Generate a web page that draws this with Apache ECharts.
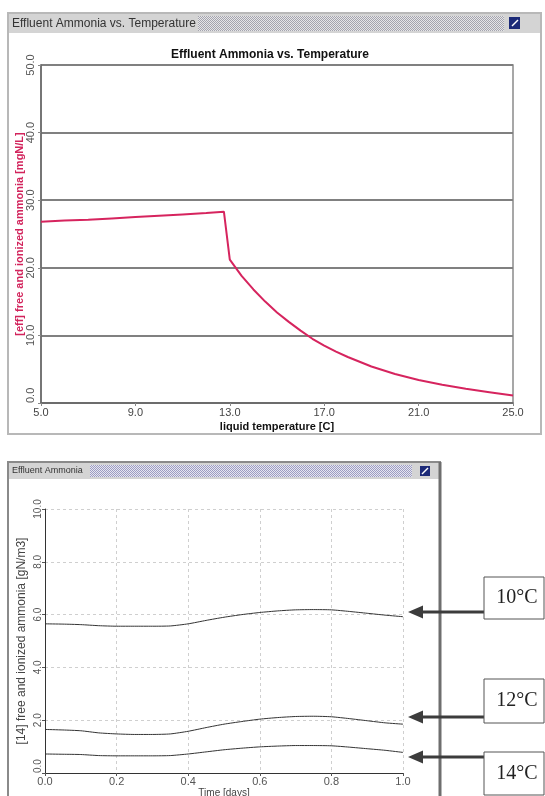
<!DOCTYPE html>
<html>
<head>
<meta charset="utf-8">
<script src="https://cdn.jsdelivr.net/npm/echarts@6/dist/echarts.min.js"></script>
<style>
  html, body { margin: 0; padding: 0; background: #fff; }
  #main { width: 545px; height: 796px; }
</style>
</head>
<body>
<div id="main"></div>
<script>
// top chart: effluent ammonia vs liquid temperature
const tempC = [5, 6, 7, 8, 9, 10, 11, 12, 12.75, 13.0, 13.5, 14, 14.5, 15, 15.5, 16, 16.5, 17, 17.5, 18, 19, 20, 21, 22, 23, 24, 25]
const effAmmonia = [26.8, 27.0, 27.1, 27.3, 27.5, 27.7, 27.9, 28.1, 28.3, 21.2, 18.8, 16.8, 15.0, 13.4, 12.0, 10.7, 9.5, 8.5, 7.6, 6.8, 5.4, 4.3, 3.4, 2.7, 2.1, 1.6, 1.1]

// bottom chart: daily profile for three temperatures
const timeDays = [0, 0.05, 0.1, 0.15, 0.2, 0.25, 0.3, 0.35, 0.4, 0.45, 0.5, 0.55, 0.6, 0.65, 0.7, 0.75, 0.8, 0.85, 0.9, 0.95, 1.0]
const nh10 = [5.65, 5.64, 5.62, 5.58, 5.56, 5.56, 5.56, 5.57, 5.65, 5.78, 5.90, 6.00, 6.08, 6.14, 6.18, 6.19, 6.18, 6.12, 6.05, 5.98, 5.92]
const nh12 = [1.65, 1.63, 1.60, 1.52, 1.48, 1.46, 1.46, 1.48, 1.58, 1.72, 1.85, 1.95, 2.04, 2.10, 2.14, 2.15, 2.13, 2.06, 1.98, 1.90, 1.85]
const nh14 = [0.72, 0.71, 0.70, 0.66, 0.65, 0.65, 0.65, 0.66, 0.72, 0.80, 0.88, 0.94, 0.99, 1.02, 1.04, 1.04, 1.03, 0.98, 0.92, 0.86, 0.78]
const tempLabels = ['10°C', '12°C', '14°C']

const font = 'Liberation Sans, Arial, sans-serif'

// little checker pattern for the window title bars
function hatch (base, dot) {
  const cv = document.createElement('canvas')
  cv.width = 2
  cv.height = 2
  const ctx = cv.getContext('2d')
  ctx.fillStyle = base
  ctx.fillRect(0, 0, 2, 2)
  ctx.fillStyle = dot
  ctx.fillRect(0, 0, 1, 1)
  ctx.fillRect(1, 1, 1, 1)
  return cv
}

const zip = (xs, ys) => xs.map((x, i) => [x, ys[i]])

let myChart = echarts.init(document.getElementById('main'))

// panel frames, title bars, annotation boxes and arrows
const graphics = [
  // top window
  { type: 'rect', shape: { x: 8, y: 13, width: 533, height: 421 }, style: { fill: '#fff', stroke: '#b8b8b8', lineWidth: 2 }, z: -10 },
  { type: 'rect', shape: { x: 9, y: 14, width: 531, height: 19 }, style: { fill: '#d4d4d4' }, z: -9 },
  { type: 'rect', shape: { x: 198, y: 16, width: 306, height: 15 }, style: { fill: { image: hatch('#e6e6e8', '#a4a4ae'), repeat: 'repeat' } }, z: -8 },
  { type: 'text', style: { x: 12, y: 24, text: 'Effluent Ammonia vs. Temperature', font: '12px ' + font, fill: '#333', textVerticalAlign: 'middle' } },
  { type: 'rect', shape: { x: 509, y: 17, width: 11, height: 12 }, style: { fill: '#1c2a78' } },
  { type: 'line', shape: { x1: 512, y1: 26, x2: 518, y2: 20 }, style: { stroke: '#fff', lineWidth: 1.5 } },
  // bottom window
  { type: 'rect', shape: { x: 8, y: 462, width: 432, height: 340 }, style: { fill: '#fff', stroke: '#8a8a8a', lineWidth: 2 }, z: -10 },
  { type: 'rect', shape: { x: 9, y: 463, width: 430, height: 16 }, style: { fill: '#d4d4d4' }, z: -9 },
  { type: 'rect', shape: { x: 90, y: 465, width: 322, height: 12 }, style: { fill: { image: hatch('#e6e6f0', '#9c9cc2'), repeat: 'repeat' } }, z: -8 },
  { type: 'text', style: { x: 12, y: 471, text: 'Effluent Ammonia', font: '9px ' + font, fill: '#333', textVerticalAlign: 'middle' } },
  { type: 'rect', shape: { x: 420, y: 466, width: 10, height: 10 }, style: { fill: '#1c2a78' } },
  { type: 'line', shape: { x1: 422, y1: 474, x2: 428, y2: 468 }, style: { stroke: '#fff', lineWidth: 1.5 } },
  { type: 'line', shape: { x1: 440, y1: 462, x2: 440, y2: 796 }, style: { stroke: '#6e6e6e', lineWidth: 3 } }
]

// annotation boxes with arrows pointing at the line ends
const boxes = [
  { y: 577, h: 42, arrowY: 612 },
  { y: 679, h: 44, arrowY: 717 },
  { y: 752, h: 43, arrowY: 757 }
]
boxes.forEach((b, i) => {
  graphics.push({ type: 'line', shape: { x1: 484, y1: b.arrowY, x2: 420, y2: b.arrowY }, style: { stroke: '#3c3c3c', lineWidth: 3 } })
  graphics.push({ type: 'polygon', shape: { points: [[408, b.arrowY], [423, b.arrowY - 6.5], [423, b.arrowY + 6.5]] }, style: { fill: '#3c3c3c' } })
  graphics.push({ type: 'rect', shape: { x: 484, y: b.y, width: 60, height: b.h }, style: { fill: '#fff', stroke: '#555', lineWidth: 1 } })
  graphics.push({ type: 'text', style: { x: 517, y: b.y + b.h / 2, text: tempLabels[i], font: '20px Liberation Serif, Times New Roman, serif', fill: '#222', textAlign: 'center', textVerticalAlign: 'middle' } })
})

const option = {
  animation: false,
  title: [{
    text: 'Effluent Ammonia vs. Temperature',
    left: 166,
    top: 44,
    textStyle: { fontSize: 12, fontWeight: 'bold', color: '#111', fontFamily: font }
  }],
  graphic: graphics,
  grid: [
    { left: 41, top: 65, width: 472, height: 338, outerBoundsMode: 'none', show: true, borderColor: '#8a8a8a', borderWidth: 1.5, backgroundColor: '#fff' },
    { left: 45, top: 509, width: 358, height: 264, outerBoundsMode: 'none' }
  ],
  xAxis: [
    {
      gridIndex: 0,
      type: 'value',
      min: 5,
      max: 25,
      interval: 4,
      name: 'liquid temperature [C]',
      nameLocation: 'middle',
      nameGap: 18,
      nameTextStyle: { fontSize: 11, fontWeight: 'bold', color: '#111', fontFamily: font },
      axisLine: { lineStyle: { color: '#666', width: 1.5 } },
      axisTick: { show: true, length: 3, lineStyle: { color: '#888' } },
      axisLabel: { margin: 4, fontSize: 11, color: '#444', fontFamily: font, formatter: v => v.toFixed(1) },
      splitLine: { show: false }
    },
    {
      gridIndex: 1,
      type: 'value',
      min: 0,
      max: 1,
      interval: 0.2,
      name: 'Time [days]',
      nameLocation: 'middle',
      nameGap: 13,
      nameTextStyle: { fontSize: 10, color: '#444', fontFamily: font },
      axisLine: { lineStyle: { color: '#333', width: 1 } },
      axisTick: { show: true, length: 3, lineStyle: { color: '#555' } },
      axisLabel: { margin: 3, fontSize: 11, color: '#555', fontFamily: font, formatter: v => v.toFixed(1) },
      splitLine: { show: true, lineStyle: { color: '#cfcfcf', type: [3, 3] } }
    }
  ],
  yAxis: [
    {
      gridIndex: 0,
      type: 'value',
      min: 0,
      max: 50,
      interval: 10,
      name: '[eff] free and ionized ammonia [mgN/L]',
      nameLocation: 'middle',
      nameRotate: 90,
      nameGap: 16,
      nameMoveOverlap: false,
      nameTextStyle: { fontSize: 11, fontWeight: 'bold', color: '#d2245c', fontFamily: font },
      axisLine: { show: true, lineStyle: { color: '#666', width: 1.5 } },
      axisTick: { show: true, length: 3, lineStyle: { color: '#888' } },
      axisLabel: { rotate: 90, margin: 5, fontSize: 11, color: '#555', fontFamily: font, alignMinLabel: 'left', formatter: v => v.toFixed(1) },
      splitLine: { show: true, lineStyle: { color: '#808080', width: 2 } }
    },
    {
      gridIndex: 1,
      type: 'value',
      min: 0,
      max: 10,
      interval: 2,
      name: '[14] free and ionized ammonia [gN/m3]',
      nameLocation: 'middle',
      nameRotate: 90,
      nameGap: 17,
      nameMoveOverlap: false,
      nameTextStyle: { fontSize: 12, color: '#444', fontFamily: font },
      axisLine: { show: true, lineStyle: { color: '#333', width: 1 } },
      axisTick: { show: true, length: 3, lineStyle: { color: '#555' } },
      axisLabel: { rotate: 90, margin: 2, fontSize: 10, color: '#555', fontFamily: font, alignMinLabel: 'left', formatter: v => v.toFixed(1) },
      splitLine: { show: true, lineStyle: { color: '#cfcfcf', type: [3, 3] } }
    }
  ],
  series: [
    {
      name: 'effluent ammonia',
      type: 'line',
      xAxisIndex: 0,
      yAxisIndex: 0,
      showSymbol: false,
      lineStyle: { color: '#d6245e', width: 2 },
      data: zip(tempC, effAmmonia)
    },
    {
      name: tempLabels[0],
      type: 'line',
      xAxisIndex: 1,
      yAxisIndex: 1,
      showSymbol: false,
      smooth: 0.2,
      lineStyle: { color: '#333', width: 1 },
      data: zip(timeDays, nh10)
    },
    {
      name: tempLabels[1],
      type: 'line',
      xAxisIndex: 1,
      yAxisIndex: 1,
      showSymbol: false,
      smooth: 0.2,
      lineStyle: { color: '#333', width: 1 },
      data: zip(timeDays, nh12)
    },
    {
      name: tempLabels[2],
      type: 'line',
      xAxisIndex: 1,
      yAxisIndex: 1,
      showSymbol: false,
      smooth: 0.2,
      lineStyle: { color: '#333', width: 1 },
      data: zip(timeDays, nh14)
    }
  ]
}
myChart.setOption(option)
</script>
</body>
</html>
